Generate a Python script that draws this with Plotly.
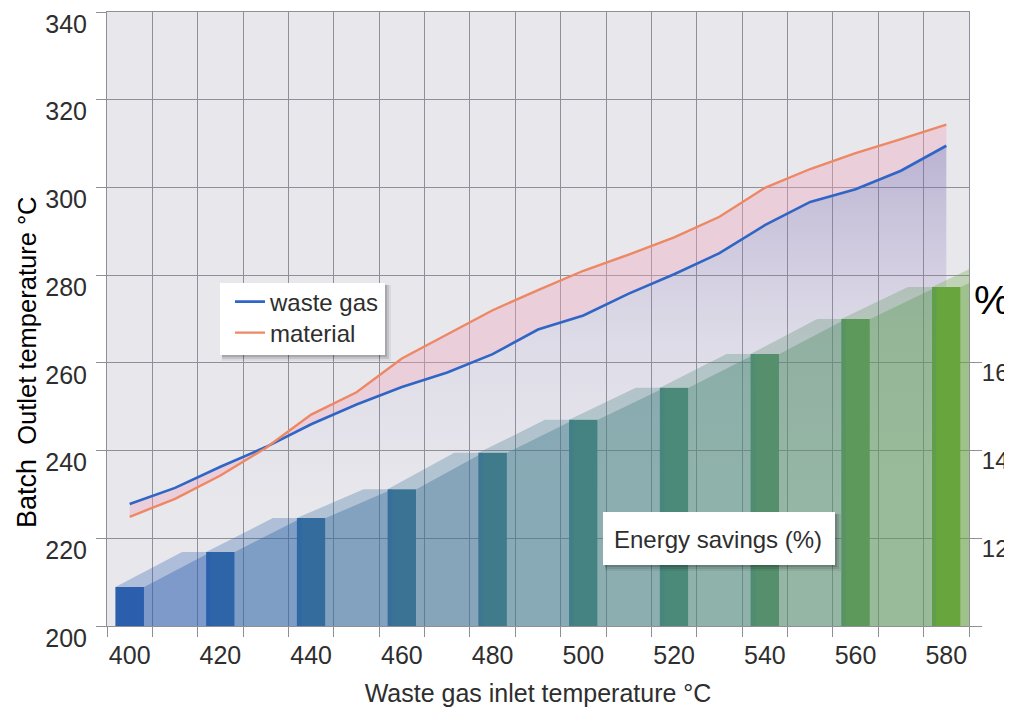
import plotly.graph_objects as go

# ---------------- data ----------------
line_x = [400, 410, 420, 430, 440, 450, 460, 470, 480, 490,
          500, 510, 520, 530, 540, 550, 560, 570, 580]
waste_gas = [227.8, 231.5, 236.3, 240.8, 246.0, 250.5, 254.5, 257.8, 262.0, 267.6,
             270.8, 275.8, 280.2, 285.0, 291.4, 296.7, 299.6, 303.8, 309.5]
material = [224.9, 229.0, 234.3, 240.6, 248.2, 253.3, 261.0, 266.5, 272.0, 276.6,
            281.0, 284.7, 288.6, 293.3, 299.9, 304.2, 307.8, 311.0, 314.3]

bar_x = [400, 420, 440, 460, 480, 500, 520, 540, 560, 580]
savings = [10.89, 11.69, 12.46, 13.12, 13.95, 14.70, 15.43, 16.20, 17.00, 17.73]

x_ticks = [400, 420, 440, 460, 480, 500, 520, 540, 560, 580]
y_ticks = [200, 220, 240, 260, 280, 300, 320, 340]
y2_ticks = [10, 12, 14, 16]
y2_labels = ["", "12", "14", "16"]

# ---------------- style ----------------
bar_rgb = [(43, 95, 174), (45, 101, 168), (51, 108, 157), (58, 115, 148), (63, 123, 139),
           (69, 131, 130), (75, 138, 120), (85, 143, 108), (92, 153, 90), (104, 165, 60)]
BAR_HW = 3.15      # half width of bar (x units)
DEPTH = 14.7       # oblique extrusion depth (x units)
GRID = "#8f8f97"
FONT = "Liberation Sans, Arial, sans-serif"
TXT = "#2e2e2e"
BLUE = "#2f66c6"
ORANGE = "#ee8764"

OFF = 8                      # page body margin of the html page
W, H = 1012 - OFF, 707 - OFF
# plot area in page pixels: x 107..969, y 12..626
L_M, R_M, T_M, B_M = 107 - OFF, 1012 - 969, 12 - OFF, 707 - 626
PW, PH = W - L_M - R_M, H - T_M - B_M


def px(xp):
    return (xp - OFF - L_M) / PW


def py(yp):
    return (H - B_M - (yp - OFF)) / PH


fig = go.Figure()

# purple gradient area under waste-gas line
fig.add_trace(go.Scatter(
    x=line_x, y=waste_gas, mode="none", fill="tozeroy", showlegend=False,
    hoverinfo="skip",
    fillgradient=dict(type="vertical", start=228, stop=312,
                      colorscale=[[0, "rgba(175,160,215,0)"],
                                  [0.45, "rgba(150,130,195,0.12)"],
                                  [1, "rgba(120,100,170,0.42)"]]),
))
# waste gas line
fig.add_trace(go.Scatter(
    x=line_x, y=waste_gas, mode="lines", name="waste gas", legend="legend",
    line=dict(color=BLUE, width=2.6),
))
# pink band between the two lines
fig.add_trace(go.Scatter(
    x=line_x, y=material, mode="none", showlegend=False, hoverinfo="skip",
    fill="tonexty", fillcolor="rgba(240,165,190,0.38)",
))
# material line
fig.add_trace(go.Scatter(
    x=line_x, y=material, mode="lines", name="material", legend="legend2",
    line=dict(color=ORANGE, width=2.4),
))

# oblique extrusions of the bars (computed from the savings values)
n = len(savings)
for i in range(n):
    c = bar_x[i]
    v = savings[i]
    vn = savings[i + 1] if i + 1 < n else v + (v - savings[i - 1])
    r, g, b = bar_rgb[i]
    left, right = c - BAR_HW, c + BAR_HW
    # side face
    fig.add_trace(go.Scatter(
        x=[right, right, right + DEPTH, right + DEPTH, right],
        y=[10, v, vn, 10, 10], yaxis="y2", mode="none", fill="toself",
        fillcolor=f"rgba({r},{g},{b},0.56)", showlegend=False, hoverinfo="skip",
    ))
    # top face
    fig.add_trace(go.Scatter(
        x=[left, right, right + DEPTH, left + DEPTH, left],
        y=[v, v, vn, vn, v], yaxis="y2", mode="none", fill="toself",
        fillcolor=f"rgba({r},{g},{b},0.30)", showlegend=False, hoverinfo="skip",
    ))

# front faces of bars
fig.add_trace(go.Bar(
    x=bar_x, y=[s - 10 for s in savings], base=10, yaxis="y2", width=2 * BAR_HW,
    marker=dict(color=[f"rgb({r},{g},{b})" for r, g, b in bar_rgb], line=dict(width=0)),
    showlegend=False, hoverinfo="skip",
))

# boxes (legend & label) with shadows
shapes = []
def box(x0, y0, x1, y1):
    for k, a in ((6, 0.06), (4, 0.10), (2, 0.14)):
        shapes.append(dict(type="rect", xref="paper", yref="paper", layer="above",
                           x0=px(x0 + 2), x1=px(x1 + k), y0=py(y1 + k), y1=py(y0 + 2),
                           line=dict(width=0), fillcolor=f"rgba(0,0,0,{a})"))
    shapes.append(dict(type="rect", xref="paper", yref="paper", layer="above",
                       x0=px(x0), x1=px(x1), y0=py(y1), y1=py(y0),
                       line=dict(width=0), fillcolor="white"))

box(220, 283, 385, 355)
box(603, 512, 835, 565)

annotations = [
    dict(text="Energy savings (%)", xref="paper", yref="paper", x=px(718), y=py(539),
         xanchor="center", yanchor="middle", showarrow=False,
         font=dict(size=24, color=TXT, family=FONT)),
    dict(text="%", xref="paper", yref="paper", x=px(972), y=py(300),
         xanchor="left", yanchor="middle", showarrow=False,
         font=dict(size=41, color="black", family=FONT)),
    dict(text="<span style='font-size:27px'>Batch</span>  Outlet temperature °C",
         xref="paper", yref="paper", x=px(27), y=py(362), textangle=-90,
         xanchor="center", yanchor="middle", showarrow=False,
         font=dict(size=25.5, color="black", family=FONT)),
]

legend_common = dict(xanchor="left", yanchor="middle", bgcolor="rgba(0,0,0,0)",
                     font=dict(size=24, color=TXT, family=FONT), itemwidth=30)

fig.update_layout(
    width=W, height=H,
    margin=dict(l=L_M, r=R_M, t=T_M, b=B_M, autoexpand=False),
    paper_bgcolor="white", plot_bgcolor="#e7e7ec",
    font=dict(family=FONT, color=TXT, size=24),
    barmode="overlay",
    shapes=shapes, annotations=annotations,
    legend=dict(x=px(230), y=py(302), **legend_common),
    legend2=dict(x=px(230), y=py(333), **legend_common),
    xaxis=dict(
        range=[395, 585], tickmode="array", tickvals=x_ticks, automargin=False,
        ticks="", showgrid=False, zeroline=False,
        showline=True, mirror=True, linecolor=GRID, linewidth=1,
        tickfont=dict(size=25, color=TXT), ticklabelstandoff=7,
        minor=dict(tick0=395, dtick=10, showgrid=True, gridcolor=GRID, gridwidth=1,
                   ticks="outside", ticklen=10, tickcolor=GRID),
        title=dict(text="Waste gas inlet temperature °C", standoff=18,
                   font=dict(size=25, color=TXT)),
    ),
    yaxis=dict(
        range=[200, 340], tickmode="array", tickvals=y_ticks, automargin=False,
        showgrid=True, gridcolor=GRID, gridwidth=1, zeroline=False,
        ticks="outside", ticklen=10, tickcolor=GRID,
        ticklabelshift=12, ticklabelstandoff=4,
        showline=True, mirror=True, linecolor=GRID, linewidth=1,
        tickfont=dict(size=25, color=TXT),
    ),
    yaxis2=dict(
        overlaying="y", side="right", range=[10, 24], automargin=False,
        tickmode="array", tickvals=y2_ticks, ticktext=y2_labels,
        ticklabelshift=10, ticklabelstandoff=-5,
        showgrid=False, zeroline=False, ticks="outside", ticklen=12, tickcolor=GRID,
        tickfont=dict(size=24, color=TXT),
    ),
)

fig.write_html("out.html")
